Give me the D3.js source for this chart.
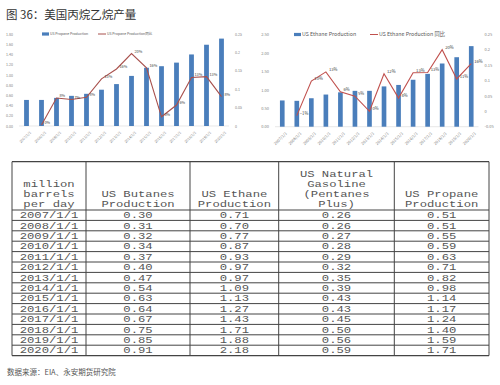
<!DOCTYPE html>
<html>
<head>
<meta charset="utf-8">
<script src="https://cdn.jsdelivr.net/npm/d3@7.8.5/dist/d3.min.js"></script>
<style>
  html, body { margin: 0; padding: 0; background: #fff; }
  svg { display: block; }
</style>
</head>
<body>
<svg width="500" height="385"></svg>
<script>
const years = ["2007/1/1", "2008/1/1", "2009/1/1", "2010/1/1", "2011/1/1", "2012/1/1", "2013/1/1",
  "2014/1/1", "2015/1/1", "2016/1/1", "2017/1/1", "2018/1/1", "2019/1/1", "2020/1/1"];
const butanes = [0.30, 0.31, 0.32, 0.34, 0.37, 0.40, 0.47, 0.54, 0.63, 0.64, 0.67, 0.75, 0.85, 0.91];
const ethane = [0.71, 0.70, 0.77, 0.87, 0.93, 0.97, 0.97, 1.09, 1.13, 1.27, 1.43, 1.71, 1.88, 2.18];
const gasoline = [0.26, 0.26, 0.27, 0.28, 0.29, 0.32, 0.35, 0.39, 0.43, 0.43, 0.45, 0.50, 0.56, 0.59];
const propane = [0.51, 0.51, 0.55, 0.59, 0.63, 0.71, 0.82, 0.98, 1.14, 1.17, 1.24, 1.40, 1.59, 1.71];

// year-on-year growth
const propaneYoY = [null, 0.003, 0.076, 0.072, 0.078, 0.128, 0.155, 0.197, 0.158, 0.025, 0.057, 0.132, 0.134, 0.08];
const ethaneYoY = [null, -0.014, 0.098, 0.128, 0.063, 0.049, 0.0, 0.122, 0.043, 0.125, 0.126, 0.2, 0.105, 0.155];

const propaneTicks = [0, 0.2, 0.4, 0.6, 0.8, 1.0, 1.2, 1.4, 1.6, 1.8];
const propaneYoYTicks = [0, 0.05, 0.1, 0.15, 0.2, 0.25];
const ethaneTicks = [0, 0.5, 1.0, 1.5, 2.0, 2.5];
const ethaneYoYTicks = [-0.05, 0, 0.05, 0.1, 0.15, 0.2, 0.25];

const headers = [
  ["million", "barrels", "per day"],
  ["US Butanes", "Production"],
  ["US Ethane", "Production"],
  ["US Natural", "Gasoline", "(Pentanes", "Plus)"],
  ["US Propane", "Production"],
];

const svg = d3.select("svg");
const sans = "'Noto Sans CJK SC', 'Noto Sans', sans-serif";
const pct = d3.format(".0%");
const short = (v) => String(+v.toFixed(2));

svg.append("rect").attr("width", 500).attr("height", 385).attr("fill", "#fff");

svg.append("text")
  .attr("x", 6).attr("y", 19)
  .attr("font-family", sans).attr("font-size", 11.5)
  .attr("fill", "#333")
  .text("图 36：美国丙烷乙烷产量");

function drawChart(opt) {
  const g = svg.append("g");
  const x = d3.scaleBand().domain(years).range([opt.x0, opt.x1]).paddingInner(0.68).paddingOuter(0.34);
  const y = d3.scaleLinear().domain(opt.yDomain).range([opt.yBottom, opt.yTop]);
  const y2 = d3.scaleLinear().domain(opt.y2Domain).range([opt.yBottom, opt.yTop]);

  // baseline
  g.append("line")
    .attr("x1", opt.x0).attr("x2", opt.x1)
    .attr("y1", y(0)).attr("y2", y(0))
    .attr("stroke", "#d9d9d9").attr("stroke-width", 0.6);

  const left = g.append("g")
    .attr("transform", `translate(${opt.x0 - 3},0)`)
    .call(d3.axisLeft(y).tickValues(opt.yTicks).tickFormat(d3.format(".2f")).tickSize(0));
  const right = g.append("g")
    .attr("transform", `translate(${opt.x1 + 3},0)`)
    .call(d3.axisRight(y2).tickValues(opt.y2Ticks).tickFormat(short).tickSize(0));
  [left, right].forEach((a) => {
    a.select(".domain").remove();
    a.selectAll("text")
      .attr("font-family", sans).attr("font-size", opt.tickSize)
      .attr("fill", "#7f7f7f");
  });

  const bottom = g.append("g")
    .attr("transform", `translate(0,${y(0) + 2})`)
    .call(d3.axisBottom(x).tickSize(0));
  bottom.select(".domain").remove();
  bottom.selectAll("text")
    .attr("font-family", sans).attr("font-size", opt.tickSize)
    .attr("fill", "#7f7f7f")
    .attr("text-anchor", "end")
    .attr("dy", "0.3em")
    .attr("transform", "translate(2,2) rotate(-45)");

  g.append("g").selectAll("rect")
    .data(opt.bars)
    .join("rect")
    .attr("x", (d, i) => x(years[i]))
    .attr("width", x.bandwidth())
    .attr("y", (d) => y(d))
    .attr("height", (d) => y(0) - y(d))
    .attr("fill", "#4a7ebb");

  const pts = opt.yoy.map((v, i) => ({ v, i })).filter((d) => d.v !== null);
  const line = d3.line()
    .x((d) => x(years[d.i]) + x.bandwidth() / 2)
    .y((d) => y2(d.v));
  g.append("path")
    .datum(pts)
    .attr("d", line)
    .attr("fill", "none")
    .attr("stroke", opt.lineColor)
    .attr("stroke-width", 1.1);

  g.append("g").selectAll("text")
    .data(pts)
    .join("text")
    .attr("x", (d) => x(years[d.i]) + x.bandwidth() / 2 + 3)
    .attr("y", (d) => y2(d.v) - 1)
    .attr("font-family", sans).attr("font-size", opt.labelSize)
    .attr("fill", "#404040")
    .text((d) => pct(d.v));

  // legend
  const lg = g.append("g").attr("font-family", sans).attr("font-size", opt.legendSize).attr("fill", "#595959");
  lg.append("rect")
    .attr("x", opt.legendX).attr("y", opt.legendY - 1.6)
    .attr("width", 7).attr("height", 3.2).attr("fill", "#4a7ebb");
  lg.append("text")
    .attr("x", opt.legendX + 8).attr("y", opt.legendY).attr("dy", "0.35em")
    .text(opt.barName);
  lg.append("line")
    .attr("x1", opt.legendX2).attr("x2", opt.legendX2 + 8)
    .attr("y1", opt.legendY).attr("y2", opt.legendY)
    .attr("stroke", opt.lineColor).attr("stroke-width", 1);
  lg.append("text")
    .attr("x", opt.legendX2 + 9).attr("y", opt.legendY).attr("dy", "0.35em")
    .text(opt.lineName);
}

drawChart({
  x0: 19, x1: 229, yTop: 34, yBottom: 126,
  yDomain: [0, 1.8], y2Domain: [0, 0.25],
  yTicks: propaneTicks, y2Ticks: propaneYoYTicks,
  bars: propane, yoy: propaneYoY,
  lineColor: "#a8504c",
  tickSize: 3.6, labelSize: 3.8, legendSize: 3.5,
  legendX: 42, legendX2: 98, legendY: 34,
  barName: "US Propane Production", lineName: "US Propane Production同比",
});

drawChart({
  x0: 275, x1: 478.5, yTop: 34.3, yBottom: 126.7,
  yDomain: [0, 2.5], y2Domain: [-0.05, 0.25],
  yTicks: ethaneTicks, y2Ticks: ethaneYoYTicks,
  bars: ethane, yoy: ethaneYoY,
  lineColor: "#c0504d",
  tickSize: 4, labelSize: 4.2, legendSize: 5.3,
  legendX: 294, legendX2: 370, legendY: 34.5,
  barName: "US Ethane Production", lineName: "US Ethane Production 同比",
});

// table
const tbl = svg.append("g");
const colX = [12, 86, 190, 278.7, 394.3, 489];
const tableTop = 161.7, headBottom = 210, rowH = 10.4;
const rows = years.map((yr, i) => [yr, butanes[i], ethane[i], gasoline[i], propane[i]]);
const tableBottom = headBottom + rows.length * rowH;
const mono = "'Liberation Mono', 'DejaVu Sans Mono', monospace";
const sx = 1.3;

const hLines = [tableTop, headBottom].concat(rows.map((r, i) => headBottom + (i + 1) * rowH));
tbl.selectAll("line.h")
  .data(hLines)
  .join("line")
  .attr("class", "h")
  .attr("x1", colX[0]).attr("x2", colX[5])
  .attr("y1", (d) => d).attr("y2", (d) => d)
  .attr("stroke", "#444").attr("stroke-width", (d) => (d === tableTop || d === tableBottom ? 1.2 : 1));
tbl.selectAll("line.v")
  .data(colX)
  .join("line")
  .attr("class", "v")
  .attr("x1", (d) => d).attr("x2", (d) => d)
  .attr("y1", tableTop).attr("y2", tableBottom)
  .attr("stroke", "#444").attr("stroke-width", 1);

function cellText(cx, cy, str) {
  tbl.append("text")
    .attr("transform", `translate(${cx},${cy}) scale(${sx},1)`)
    .attr("text-anchor", "middle")
    .attr("font-family", mono).attr("font-size", 9.4)
    .attr("fill", "#555")
    .text(str);
}

headers.forEach((lines, c) => {
  const cx = (colX[c] + colX[c + 1]) / 2;
  lines.forEach((s, k) => {
    const cy = headBottom - 2.6 - (lines.length - 1 - k) * 10.2;
    cellText(cx, cy, s);
  });
});

rows.forEach((r, i) => {
  const cy = headBottom + (i + 1) * rowH - 2.2;
  r.forEach((v, c) => {
    const cx = (colX[c] + colX[c + 1]) / 2;
    cellText(cx, cy, c === 0 ? v : d3.format(".2f")(v));
  });
});

svg.append("text")
  .attr("x", 7).attr("y", 375)
  .attr("font-family", sans).attr("font-size", 7.5)
  .attr("fill", "#555")
  .text("数据来源：EIA、永安期货研究院");
</script>
</body>
</html>
